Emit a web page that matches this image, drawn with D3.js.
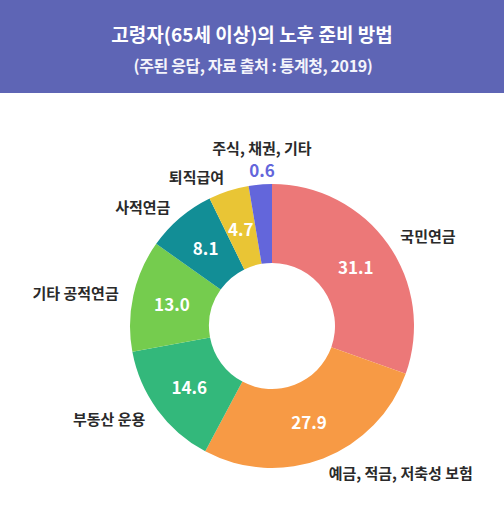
<!DOCTYPE html>
<html>
<head>
<meta charset="utf-8">
<script src="https://cdn.jsdelivr.net/npm/d3@7"></script>
<style>
  body { margin: 0; background: #fff; }
  svg { display: block; font-family: "Noto Sans CJK KR", "Noto Sans", sans-serif; }
</style>
</head>
<body>
<div id="chart"></div>
<script>
var categories = ["국민연금", "예금, 적금, 저축성 보험", "부동산 운용", "기타 공적연금", "사적연금", "퇴직급여", "주식, 채권, 기타"],
    values = [31.1, 27.9, 14.6, 13.0, 8.1, 4.7, 0.6],
    colors = ["#ec7878", "#f79a45", "#33b87b", "#75cc4e", "#128e96", "#e9c535", "#6366db"];

var title = "고령자(65세 이상)의 노후 준비 방법",
    subtitle = "(주된 응답, 자료 출처 : 통계청, 2019)";

var width = 504,
    height = 523,
    cx = 272,
    cy = 326,
    outer = 142,
    inner = 63,
    labelR = 157,
    minAngle = 9.5 * Math.PI / 180;

var svg = d3.select("#chart").append("svg")
    .attr("width", width)
    .attr("height", height);

svg.append("rect")
    .attr("width", width)
    .attr("height", 93)
    .attr("fill", "#5e65b5");

svg.append("text")
    .attr("x", 252).attr("y", 33)
    .attr("text-anchor", "middle").attr("dominant-baseline", "central")
    .attr("fill", "#fff").attr("font-size", 19).attr("font-weight", 700)
    .text(title);

svg.append("text")
    .attr("x", 253).attr("y", 65)
    .attr("text-anchor", "middle").attr("dominant-baseline", "central")
    .attr("fill", "#f4f4fb").attr("font-size", 16).attr("font-weight", 700)
    .attr("letter-spacing", -0.4)
    .text(subtitle);

// small slices get a minimum angle, the rest share what is left
var total = d3.sum(values),
    small = values.filter(function(v) { return v / total * 2 * Math.PI < minAngle; }),
    restSum = total - d3.sum(small),
    unit = (2 * Math.PI - small.length * minAngle) / restSum;

var a = 0;
var slices = values.map(function(v, i) {
  var span = (v / total * 2 * Math.PI < minAngle) ? minAngle : v * unit;
  var s = {name: categories[i], value: v, color: colors[i], startAngle: a, endAngle: a + span, small: span === minAngle};
  a += span;
  s.mid = (s.startAngle + s.endAngle) / 2;
  return s;
});

var arc = d3.arc().innerRadius(inner).outerRadius(outer);

var g = svg.append("g")
    .attr("transform", "translate(" + cx + "," + cy + ")");

g.selectAll("path.slice")
    .data(slices)
  .enter().append("path")
    .attr("class", "slice")
    .attr("d", arc)
    .attr("fill", function(d) { return d.color; });

// values inside the ring, or just outside for the thin slice
g.selectAll("text.value")
    .data(slices)
  .enter().append("text")
    .attr("class", "value")
    .attr("transform", function(d) {
      if (d.small) return "translate(" + (labelR * Math.sin(d.mid) + 3) + "," + (-labelR * Math.cos(d.mid)) + ")";
      return "translate(" + arc.centroid(d) + ")";
    })
    .attr("text-anchor", "middle").attr("dominant-baseline", "central")
    .attr("font-size", 17).attr("font-weight", 700)
    .attr("fill", function(d) { return d.small ? d.color : "#fff"; })
    .text(function(d) { return d3.format(".1f")(d.value); });

g.selectAll("text.name")
    .data(slices)
  .enter().append("text")
    .attr("class", "name")
    .attr("x", function(d) { return labelR * Math.sin(d.mid) + (d.small ? 3 : 0); })
    .attr("y", function(d) { return -labelR * Math.cos(d.mid) - (d.small ? 22 : 0); })
    .attr("text-anchor", function(d) {
      if (d.small) return "middle";
      return Math.sin(d.mid) > 0 ? "start" : "end";
    })
    .attr("dominant-baseline", "central")
    .attr("font-size", 15).attr("font-weight", 700)
    .attr("fill", "#2a2a2a")
    .text(function(d) { return d.name; });
</script>
</body>
</html>
